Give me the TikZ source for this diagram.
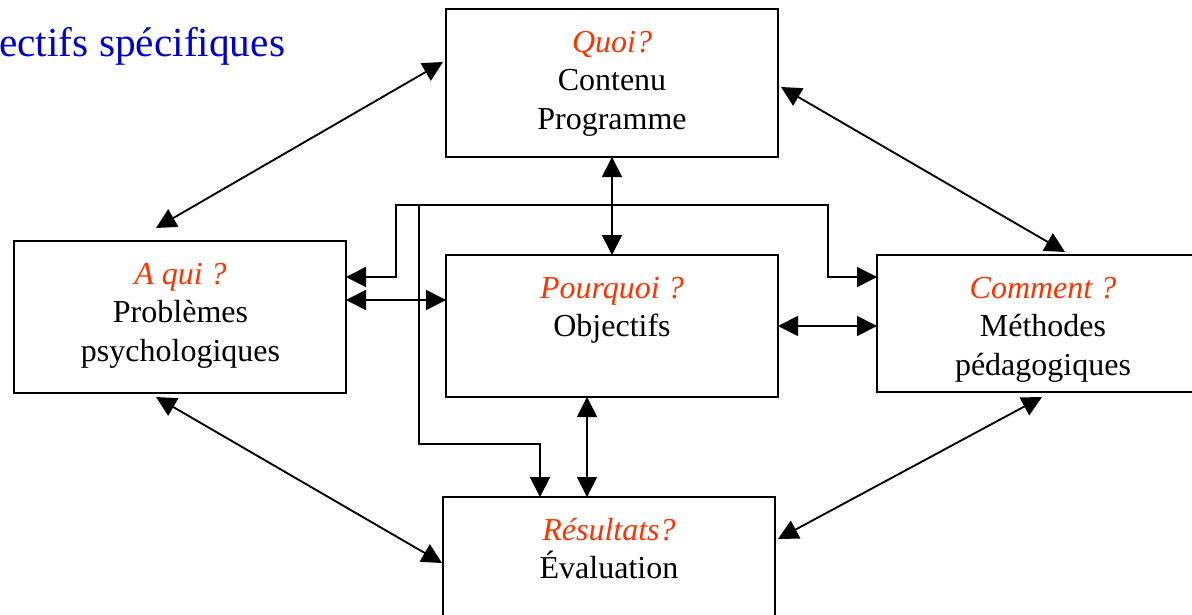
\documentclass[tikz,border=0pt]{standalone}
\usepackage{fontspec}
\setmainfont{Liberation Serif}
\usetikzlibrary{arrows.meta,calc}
\definecolor{qred}{RGB}{255,51,0}
\definecolor{tblue}{RGB}{0,0,204}
\tikzset{
  box/.style={draw, line width=1.4pt, rectangle, inner sep=0pt, outer sep=0pt, minimum width=249pt, anchor=north west},
  txt/.style={inner sep=0pt, anchor=base, font=\fontsize{24pt}{29pt}\selectfont},
  qtxt/.style={txt, text=qred, font=\fontsize{24pt}{29pt}\selectfont\itshape},
  dbl/.style={line width=1.4pt, {Triangle[length=15pt,width=15pt]}-{Triangle[length=15pt,width=15pt]}},
  arr/.style={line width=1.4pt, -{Triangle[length=15pt,width=15pt]}},
  plain/.style={line width=1.4pt}
}
\begin{document}
\begin{tikzpicture}[x=0.75pt,y=-0.75pt]
\path[use as bounding box] (0,0) rectangle (1192,614);
\clip (0,0) rectangle (1192,614);
% title
\node[inner sep=0pt, anchor=base west, text=tblue, font=\fontsize{31pt}{37pt}\selectfont] (title) at (-1,56) {ectifs spécifiques};
% boxes
\node[box, minimum height=111pt] (quoi) at (446,9) {};
\node[box, minimum height=114pt] (aqui) at (14,241) {};
\node[box, minimum height=106.5pt] (pourquoi) at (446,255) {};
\node[box, minimum height=102.75pt] (comment) at (877,255) {};
\node[box, minimum height=120pt] (resultats) at (443,497) {};
% texts
\node[qtxt] (quoi-q) at (612,52) {Quoi?};
\node[txt] (quoi-a) at (612,90.5) {Contenu};
\node[txt] (quoi-b) at (612,129) {Programme};
\node[qtxt] (aqui-q) at (180.5,284) {A qui ?};
\node[txt] (aqui-a) at (180.5,322.5) {Problèmes};
\node[txt] (aqui-b) at (180.5,361) {psychologiques};
\node[qtxt] (pq-q) at (612,298) {Pourquoi ?};
\node[txt] (pq-a) at (612,336.5) {Objectifs};
\node[qtxt] (com-q) at (1043,298) {Comment ?};
\node[txt] (com-a) at (1043,336.5) {Méthodes};
\node[txt] (com-b) at (1043,375) {pédagogiques};
\node[qtxt] (res-q) at (609,540) {Résultats?};
\node[txt] (res-a) at (609,578.5) {Évaluation};
% connector end points
\coordinate (q-l) at ($(quoi.north west)+(-3,53)$);
\coordinate (a-t) at ($(aqui.north west)+(142,-13)$);
\coordinate (q-r) at ($(quoi.north east)+(3,78)$);
\coordinate (c-t) at ($(comment.north west)+(188,-3)$);
\coordinate (a-r) at ($(aqui.north east)+(0,59)$);
\coordinate (p-l) at ($(pourquoi.north west)+(0,45)$);
\coordinate (p-b) at ($(pourquoi.south west)+(141,0)$);
\coordinate (a-b) at ($(aqui.south west)+(142,4)$);
\coordinate (r-l) at ($(resultats.north west)+(-1,66)$);
\coordinate (c-b) at ($(comment.south west)+(165,5)$);
\coordinate (r-r) at ($(resultats.north east)+(3,42)$);
\coordinate (a-in) at ($(aqui.north east)+(0,36)$);
\coordinate (c-in) at ($(comment.north west)+(0,22)$);
\coordinate (r-in) at ($(resultats.north west)+(97,0)$);
\coordinate (tl) at (396,205);
\coordinate (tm) at (419,205);
\coordinate (tr) at (828,205);
\coordinate (jog) at (540,444);
% connectors
\draw[dbl] (q-l) -- (a-t);
\draw[dbl] (q-r) -- (c-t);
\draw[dbl] (quoi.south) -- (pourquoi.north);
\draw[dbl] (a-r) -- (p-l);
\draw[dbl] (pourquoi.east) -- (pourquoi.east -| comment.west);
\draw[dbl] (p-b) -- (p-b |- resultats.north);
\draw[dbl] (a-b) -- (r-l);
\draw[dbl] (c-b) -- (r-r);
\draw[arr] (tm) -- (tl) |- (a-in);
\draw[arr] (tm) -- (tr) |- (c-in);
\draw[arr] (tm) |- (jog) -- (r-in);
\end{tikzpicture}
\end{document}
